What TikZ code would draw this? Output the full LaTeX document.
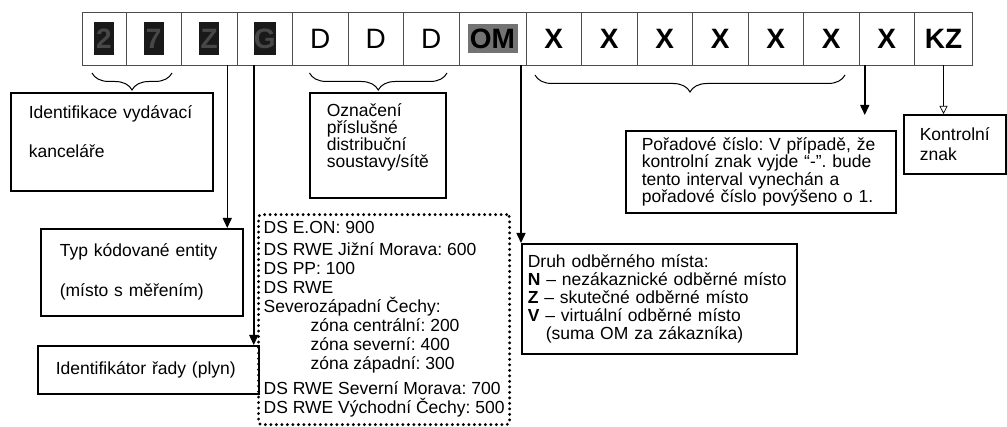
\documentclass[tikz,border=0pt]{standalone}
\usepackage{fontspec}
\setmainfont{Liberation Sans}
\usetikzlibrary{arrows.meta,positioning,decorations.pathreplacing}
\newcommand{\boxfont}{\fontsize{17.5}{19}\selectfont}
\newcommand{\cellfont}{\fontsize{28}{30}\selectfont}
\frenchspacing

\begin{document}
\begin{tikzpicture}[
  x=1pt,y=-1pt,
  node distance=0pt,
  cell/.style={draw=black!70,line width=0.8pt,outer sep=0pt,inner sep=0pt,minimum width=55.5pt,minimum height=53pt,font=\cellfont},
  xcell/.style={cell,font=\cellfont\bfseries},
  blackout/.style={fill=black!90,text=black!72,inner sep=0pt,minimum width=20pt,minimum height=33pt,font=\cellfont\bfseries},
  omfill/.style={fill=black!55,text=black,inner sep=0pt,minimum width=50pt,minimum height=29pt,font=\cellfont\bfseries},
  box/.style={draw,line width=1.6pt,anchor=north west,align=left,inner ysep=3pt,font=\boxfont},
  dotbox/.style={box,line width=3.2pt,dash pattern=on 0pt off 5.5pt,line cap=round,rounded corners=3pt},
  arrow/.style={-{Triangle[length=10pt,width=9pt]},line width=1.5pt},
  hollow/.style={-{Triangle[open,length=8pt,width=8pt]},line width=0.7pt},
  curly/.style={decorate,decoration={brace,mirror,amplitude=17pt},line width=1pt}
]
\useasboundingbox (0,0) rectangle (1007,427);
\node[cell,minimum width=44pt,anchor=north west] (c1) at (82,12) {};
\node[cell,right=of c1] (c2) {};
\node[cell,right=of c2] (c3) {};
\node[cell,right=of c3] (c4) {};
\node[cell,right=of c4] (d1) {D};
\node[cell,right=of d1] (d2) {D};
\node[cell,right=of d2] (d3) {D};
\node[cell,minimum width=67pt,right=of d3] (om) {};
\node[xcell,right=of om] (x1) {X};
\node[xcell,right=of x1] (x2) {X};
\node[xcell,right=of x2] (x3) {X};
\node[xcell,right=of x3] (x4) {X};
\node[xcell,right=of x4] (x5) {X};
\node[xcell,right=of x5] (x6) {X};
\node[xcell,right=of x6] (x7) {X};
\node[xcell,minimum width=58pt,right=of x7] (kz) {KZ};
\node[blackout] (m1) at (c1) {2};
\node[blackout] (m2) at (c2) {7};
\node[blackout] (m3) at (c3) {Z};
\node[blackout] (m4) at (c4) {G};
\node[omfill] (omtext) at (om) {OM};

\node[box,inner xsep=18pt,text width=166pt,minimum height=98pt] (ident) at (10,92)
  {Identifikace vydávací\\[20pt]kanceláře\rule[-20pt]{0pt}{20pt}};
\node[box,inner xsep=19pt,text width=164pt,minimum height=87pt] (typ) at (40,228)
  {Typ kódované entity\\[21pt](místo s měřením)};
\node[box,inner xsep=18pt,text width=185pt,minimum height=48pt] (rada) at (37,345)
  {Identifikátor řady (plyn)};
\node[box,inner xsep=17pt,text width=102pt,minimum height=105pt,font=\fontsize{17.5}{17}\selectfont] (soustava) at (309,92)
  {Označení\\příslušné\\distribuční\\soustavy/sítě\rule[-20pt]{0pt}{20pt}};
\node[dotbox,minimum width=251pt,minimum height=210pt] (seznam) at (257,213)
  {DS E.ON: 900\\[3pt]
   DS RWE Jižní Morava: 600\\
   DS PP: 100\\
   DS RWE\\
   Severozápadní Čechy:\\
   \hspace*{47pt}zóna centrální: 200\\
   \hspace*{47pt}zóna severní: 400\\
   \hspace*{47pt}zóna západní: 300\\[6pt]
   DS RWE Severní Morava: 700\\
   DS RWE Východní Čechy: 500};
\node[box,inner xsep=6pt,text width=263pt,minimum height=110pt,font=\fontsize{17.5}{18}\selectfont] (druh) at (521,243)
  {Druh odběrného místa:\\
   \textbf{N} – nezákaznické odběrné místo\\
   \textbf{Z} – skutečné odběrné místo\\
   \textbf{V} – virtuální odběrné místo\\
   \hspace*{18pt}(suma OM za zákazníka)};
\node[box,inner xsep=16pt,text width=238pt,minimum height=82pt,font=\fontsize{17.5}{16.5}\selectfont] (por) at (625,130)
  {Pořadové číslo: V případě, že\\
   kontrolní znak vyjde “-”. bude\\
   tento interval vynechán a\\
   pořadové číslo povýšeno o 1.};
\node[box,inner xsep=16pt,text width=70pt,minimum height=59pt,font=\fontsize{17.5}{20}\selectfont] (kontrol) at (903,114)
  {Kontrolní\\znak};

\draw[curly] ([xshift=10pt,yshift=-8pt]c1.south west) -- ([xshift=-9.5pt,yshift=-8pt]c2.south east);
\draw[curly] ([xshift=17pt,yshift=-8pt]d1.south west) -- ([xshift=-12pt,yshift=-8pt]d3.south east);
\draw[curly] ([xshift=9pt,yshift=-10pt]x1.south west) -- ([xshift=-14pt,yshift=-10pt]x6.south east);
\draw[arrow] ([xshift=18pt]c3.south) -- ([xshift=18pt]c3.south |- typ.north);
\draw[arrow] ([xshift=-11pt]c4.south) -- ([xshift=-11pt]c4.south |- rada.north);
\draw[arrow] (om.south -| druh.north west) -- (druh.north west);
\draw[arrow,shorten >=15pt] ([xshift=-22pt]x7.south) -- ([xshift=-22pt]x7.south |- por.north);
\draw[hollow] (kz.south) -- (kz.south |- kontrol.north);
\end{tikzpicture}
\end{document}
